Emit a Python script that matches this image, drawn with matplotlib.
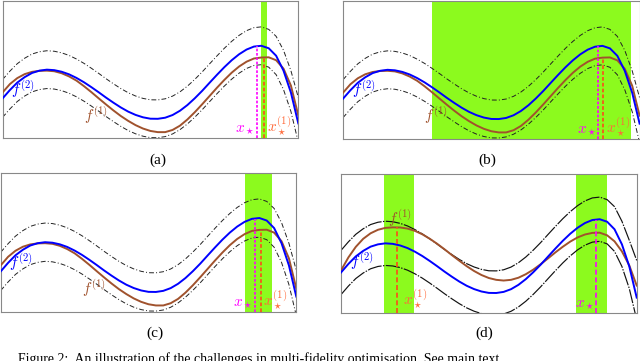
"""Multi-fidelity illustration: four panels of f^(1), f^(2) with confidence bands."""
import numpy as np
import matplotlib
matplotlib.use("Agg")
import matplotlib.pyplot as plt

plt.rcParams["mathtext.fontset"] = "cm"

# x sampled across the domain (fraction of the width)
x = [0.000, 0.025, 0.050, 0.075, 0.100, 0.125, 0.150, 0.175, 0.200, 0.225,
     0.250, 0.275, 0.300, 0.325, 0.350, 0.375, 0.400, 0.425, 0.450, 0.475,
     0.500, 0.525, 0.550, 0.575, 0.600, 0.625, 0.650, 0.675, 0.700, 0.725,
     0.750, 0.775, 0.800, 0.825, 0.850, 0.875, 0.900, 0.925, 0.950, 0.975, 1.000]

# high fidelity f^(2) (same in every panel)
f2 = [40, 48.5, 56, 61.5, 65.7, 68, 69, 68.5, 66.9, 64.3,
      60.7, 56.4, 51.5, 46.3, 40.9, 35.8, 31, 26.8, 23.5, 21.1,
      19.7, 19.6, 20.7, 23.4, 27.7, 33.4, 40.2, 47.7, 55.8, 63.8,
      71.5, 78.5, 84.5, 89.2, 92.2, 93, 90.5, 83, 68, 46, 15]

# panels (a)-(c): low fidelity f^(1) and the band around f^(2)
f1_abc = [46, 54.5, 60.5, 64.5, 66.8, 67.8, 68, 67.4, 65.4, 62.2,
          58, 52.5, 46.5, 40.2, 34, 28, 22.4, 17.5, 13.2, 9.8,
          7.4, 6.2, 6.2, 8.4, 12.7, 18.9, 26.2, 34.2, 42.5, 50.8,
          58.7, 66, 72.2, 77, 80.2, 81.2, 81.4, 78.5, 70, 53, 23]
up_abc = [59, 67.5, 75, 80.5, 84.7, 87, 88, 87.5, 85.9, 83.3,
          79.7, 75.4, 70.5, 65.3, 59.9, 54.8, 50, 45.8, 42.5, 40.1,
          38.7, 38.6, 39.7, 42.4, 46.7, 52.4, 59.2, 66.7, 74.8, 82.8,
          90.5, 97.5, 103.5, 108.2, 111.2, 112, 109.5, 102.5, 88.5, 68, 41]
lo_abc = [21, 29.5, 37, 42.5, 46.7, 49, 50, 49.5, 47.9, 45.3,
          41.7, 37.4, 32.5, 27.3, 21.9, 16.8, 12, 7.8, 4.5, 2.1,
          0.7, 0.6, 1.7, 4.4, 8.7, 14.4, 21.2, 28.7, 36.8, 44.8,
          52.5, 59.5, 65.5, 70.2, 73.2, 74, 71.5, 64, 49, 27, -4]

# panel (d)
f1_d = [42, 55, 65.5, 73.5, 79, 82.5, 84.4, 84.9, 84.8, 83.7,
        81.4, 78, 73.6, 68.6, 63.1, 57.3, 51.7, 46.3, 41.5, 37.5,
        34.5, 32.7, 32, 32.7, 34.8, 38.3, 42.8, 48.2, 54, 60,
        65.6, 70.7, 74.9, 77.8, 79.4, 79.6, 77, 71, 61, 47, 27]
up_d = [62, 70.5, 78, 83.5, 87.7, 90, 91, 90.5, 88.9, 86.3,
        82.7, 78.4, 73.5, 68.3, 62.9, 57.8, 53, 48.8, 45.5, 43.1,
        41.7, 41.6, 42.7, 45.4, 49.7, 55.4, 62.2, 69.7, 77.8, 85.8,
        93.5, 100.5, 106.5, 111.2, 114.2, 115, 112.5, 105.5, 91, 72, 52]
lo_d = [18, 26.5, 34, 39.5, 43.7, 46, 47, 46.5, 44.9, 42.3,
        38.7, 34.4, 29.5, 24.3, 18.9, 13.8, 9, 4.8, 1.5, -0.9,
        -2.3, -2.4, -1.3, 1.4, 5.7, 11.4, 18.2, 25.7, 33.8, 41.8,
        49.5, 56.5, 62.5, 67.2, 70.2, 71, 68.5, 61, 46, 24, -7]

# maximisers and highlighted regions per panel
x_star = [0.859, 0.861, 0.859, 0.863]
x_star1 = [0.884, 0.878, 0.879, 0.189]
regions = [[(0.873, 0.893)],
           [(0.301, 0.970)],
           [(0.825, 0.919)],
           [(0.145, 0.247), (0.794, 0.899)]]
panel_labels = ["(a)", "(b)", "(c)", "(d)"]
caption = "Figure 2:  An illustration of the challenges in multi-fidelity optimisation. See main text"

BLUE = "#0000ff"
BROWN = "#a0522d"
GREEN = "#8cfa1e"
MAGENTA = "#ff00ff"
RED = "#ff4a1a"
RED_TXT = "#ff6a3a"
W, H = 640, 361

# axes boxes in pixels: left, top, right, bottom
boxes = [(2.5, 1, 298.3, 138.3),
         (343, 1, 639.6, 138.6),
         (0.7, 172.7, 296.3, 311.7),
         (341, 174, 636.7, 312.7)]
label_pos = [(158, 160), (487, 160), (155, 333), (484, 333)]

fig = plt.figure(figsize=(W / 100, H / 100), dpi=100)
for i, (l, t, r, b) in enumerate(boxes):
    ax = fig.add_axes([l / W, 1 - b / H, (r - l) / W, (b - t) / H])
    is_d = i == 3
    f1 = f1_d if is_d else f1_abc
    up = up_d if is_d else up_abc
    lo = lo_d if is_d else lo_abc

    for a0, a1 in regions[i]:
        ax.axvspan(a0, a1, color=GREEN, lw=0, zorder=0)

    # confidence band: dash-dot in (a)-(c), nearly solid in (d)
    band_ls = (0, (12, 1.2, 1.2, 1.2)) if is_d else (0, (5, 2.2, 1, 2.2))
    band_lw = 0.85 if is_d else 0.7
    band_c = "#111111" if is_d else "#222222"
    ax.plot(x, up, color=band_c, lw=band_lw, ls=band_ls, zorder=2)
    ax.plot(x, lo, color=band_c, lw=band_lw, ls=band_ls, zorder=2)
    ax.plot(x, f1, color=BROWN, lw=1.4, zorder=3)
    ax.plot(x, f2, color=BLUE, lw=1.4, zorder=4)

    xs, xs1 = x_star[i], x_star1[i]
    ms_ls = (0, (3, 1.6)) if is_d else (0, (1.6, 1.0))
    rd_ls = (0, (3, 1.6)) if is_d else (0, (2.2, 1.3))
    ax.plot([xs, xs], [0, np.interp(xs, x, f2)], color=MAGENTA, lw=1.2, ls=ms_ls, zorder=5)
    ax.plot([xs1, xs1], [0, np.interp(xs1, x, f1)], color=RED, lw=1.2, ls=rd_ls, zorder=5)

    if is_d:
        ax.text(0.07, 51, r"$f^{(2)}$", color=BLUE, fontsize=11, ha="center", va="center", zorder=6)
        ax.text(0.20, 94, r"$f^{(1)}$", color=BROWN, fontsize=11, ha="center", va="center", zorder=6)
        ax.text(xs1 + 0.02, 3, r"$x_\star^{(1)}$", color=RED_TXT, fontsize=11, ha="left", va="bottom", zorder=6)
        ax.text(xs - 0.006, 1, r"$x_\star$", color=MAGENTA, fontsize=11, ha="right", va="bottom", zorder=6)
    else:
        ax.text(0.07, 49, r"$f^{(2)}$", color=BLUE, fontsize=11, ha="center", va="center", zorder=6)
        ax.text(0.315, 23, r"$f^{(1)}$", color=BROWN, fontsize=11, ha="center", va="center", zorder=6)
        ax.text(xs1 + 0.01, 1, r"$x_\star^{(1)}$", color=RED_TXT, fontsize=11, ha="left", va="bottom", zorder=6)
        ax.text(xs - 0.006, 1, r"$x_\star$", color=MAGENTA, fontsize=11, ha="right", va="bottom", zorder=6)

    ax.set_xlim(0, 1)
    ax.set_ylim(0, 138)
    ax.set_xticks([]); ax.set_yticks([])
    for sp in ax.spines.values():
        sp.set_color("#888888"); sp.set_linewidth(0.8)

    lx, ly = label_pos[i]
    fig.text(lx / W, 1 - ly / H, panel_labels[i], fontsize=11, family="Liberation Serif",
             ha="center", va="center")

# caption runs off the bottom edge, as in the source page
fig.text(18 / W, 1 - 363 / H, caption, fontsize=9.9, family="Liberation Serif",
         ha="left", va="baseline")

fig.savefig("out.png", dpi=100)
